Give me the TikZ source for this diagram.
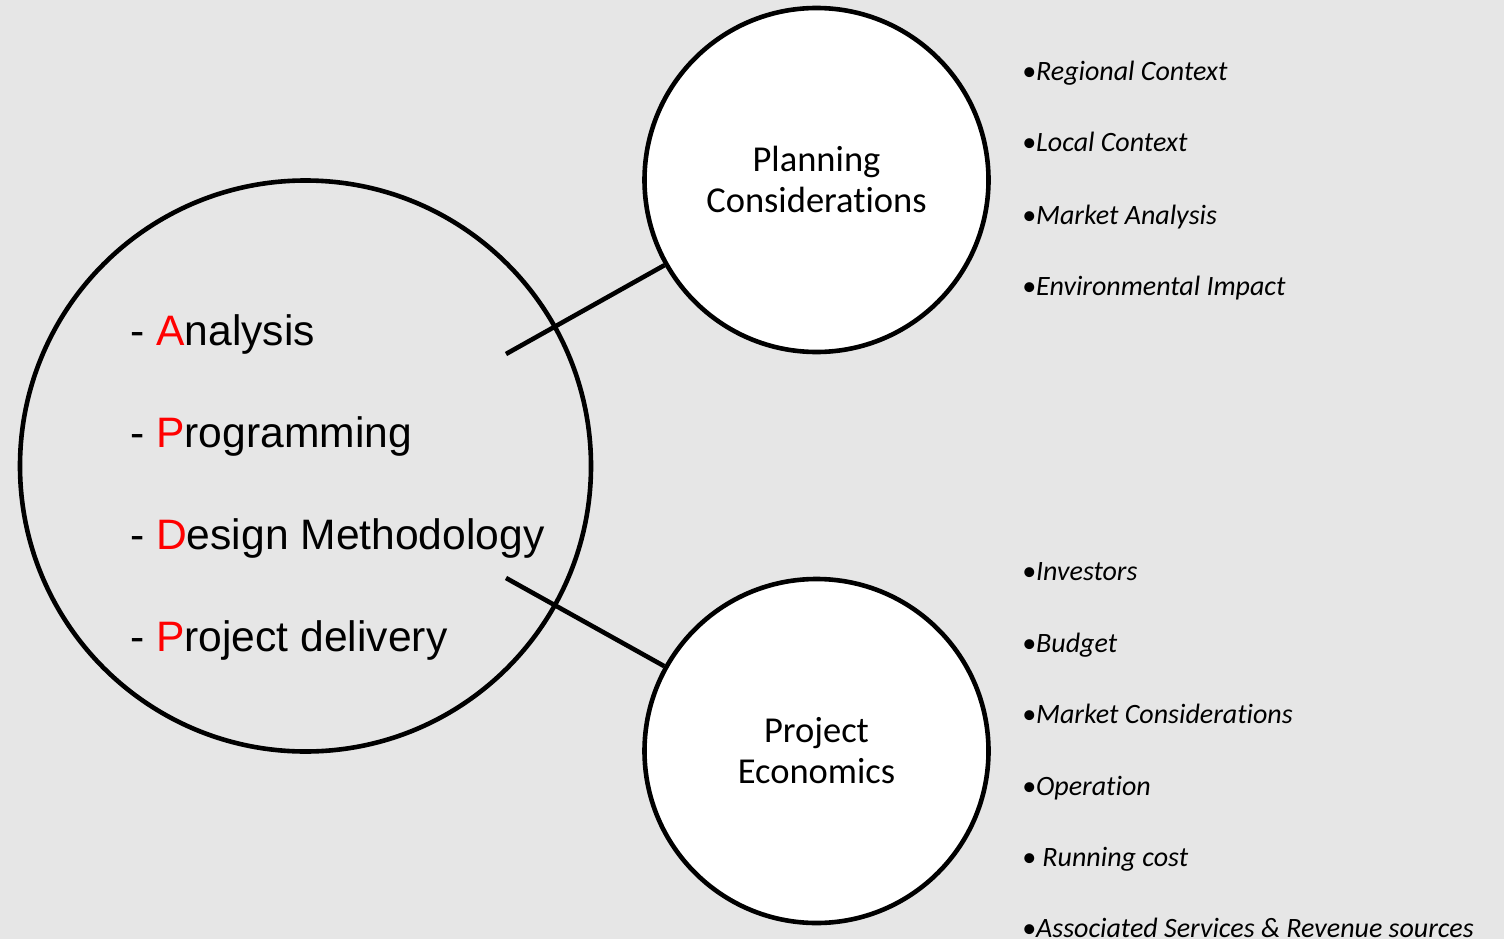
\documentclass[tikz,border=0pt]{standalone}
\usepackage{fontspec}
\setmainfont[Ligatures=NoCommon]{Carlito}
\newfontfamily\arialf{Liberation Sans}
\definecolor{bgc}{RGB}{230,230,230}
\definecolor{letred}{RGB}{255,0,0}
\tikzset{
  ring/.style={circle, draw=black, line width=4.6pt, inner sep=0pt},
  apdp/.style={anchor=base west, inner sep=0pt, font=\arialf\fontsize{42.6}{50}\selectfont},
  ctitle/.style={anchor=base, inner sep=0pt, align=center, font=\fontsize{36.5}{41}\selectfont},
  bul/.style={anchor=base west, inner sep=0pt, font=\itshape\fontsize{28}{33}\selectfont},
  link/.style={line width=4.6pt}
}
\begin{document}
\begin{tikzpicture}[x=1pt,y=-1pt]
\fill[bgc] (0,0) rectangle (1504,939);
\useasboundingbox (0,0) rectangle (1504,939);
% big circle
\node[ring, minimum size=571pt] (big) at (305.5,466) {};
% small circles
\node[ring, fill=white, minimum size=344pt] (pc) at (816.5,180) {};
\node[ring, fill=white, minimum size=344pt] (pe) at (816.5,751) {};
% connectors
\coordinate (s1) at (506,354);
\coordinate (s2) at (506,578);
\draw[link] (s1) -- (pc);
\draw[link] (s2) -- (pe);
% titles
\node[ctitle] (t1) at (816.5,212) {Planning\\Considerations};
\node[ctitle] (t2) at (816.5,783) {Project\\Economics};
% main list
\node[apdp] (a1) at (130,345) {- \textcolor{letred}{A}nalysis};
\node[apdp] (a2) at (130,447) {- \textcolor{letred}{P}rogramming};
\node[apdp] (a3) at (130,549) {- \textcolor{letred}{D}esign Methodology};
\node[apdp] (a4) at (130,651) {- \textcolor{letred}{P}roject delivery};
% bullets upper
\node[bul] (b1) at (1022,81) {•Regional Context};
\node[bul] (b2) at (1022,152) {•Local Context};
\node[bul] (b3) at (1022,224) {•Market Analysis};
\node[bul] (b4) at (1022,295) {•Environmental Impact};
% bullets lower
\node[bul] (c1) at (1022,580) {•Investors};
\node[bul] (c2) at (1022,652) {•Budget};
\node[bul] (c3) at (1022,723) {•Market Considerations};
\node[bul] (c4) at (1022,795) {•Operation};
\node[bul] (c5) at (1022,866) {• Running cost};
\node[bul] (c6) at (1022,937) {•Associated Services \& Revenue sources};
\end{tikzpicture}
\end{document}
